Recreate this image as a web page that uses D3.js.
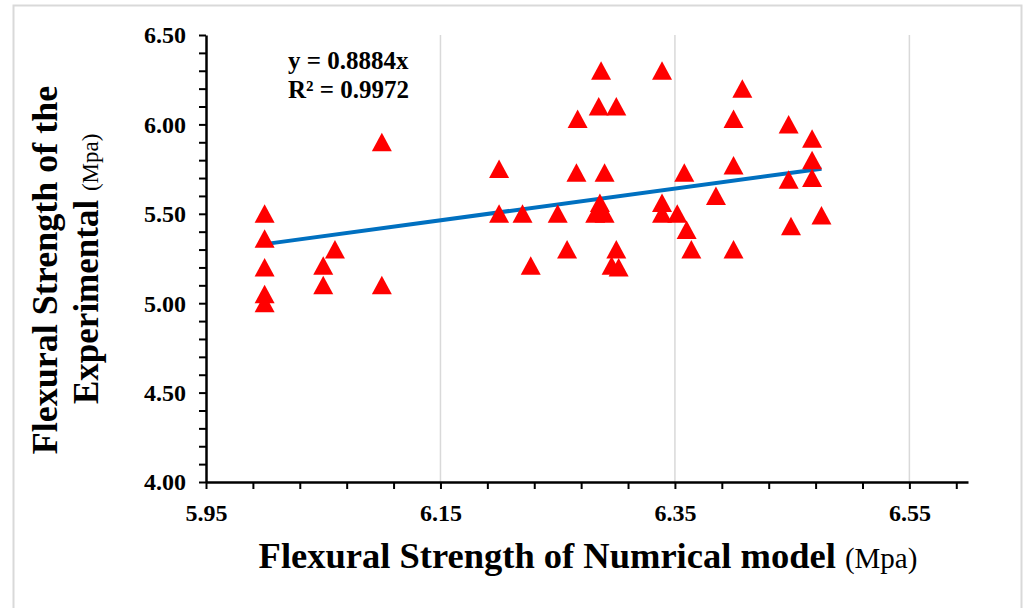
<!DOCTYPE html>
<html>
<head>
<meta charset="utf-8">
<script src="https://cdn.jsdelivr.net/npm/d3@7"></script>
<style>
  body { margin: 0; background: #fff; }
  text { font-family: "Times New Roman", "Liberation Serif", serif; fill: #000; }
</style>
</head>
<body>
<div id="chart"></div>
<script>
// flexural strength, numerical model (x) vs experimental (y), Mpa
var numerical = [6.00, 6.00, 6.00, 6.00, 6.00, 6.05, 6.05, 6.06, 6.10, 6.10,
  6.20, 6.20, 6.22, 6.227, 6.25, 6.258, 6.267, 6.266, 6.285, 6.287,
  6.29, 6.286, 6.286, 6.282, 6.290, 6.30, 6.30, 6.296, 6.302, 6.339,
  6.339, 6.339, 6.352, 6.358, 6.36, 6.364, 6.385, 6.40, 6.40, 6.40,
  6.4075, 6.447, 6.447, 6.449, 6.467, 6.467, 6.467, 6.475];
var experimental = [5.50, 5.36, 5.20, 5.05, 5.00, 5.21, 5.10, 5.30, 5.90, 5.10,
  5.75, 5.50, 5.50, 5.21, 5.50, 5.30, 6.03, 5.73, 6.10, 6.30,
  5.73, 5.56, 5.53, 5.50, 5.50, 6.10, 5.30, 5.21, 5.20, 6.30,
  5.56, 5.50, 5.50, 5.73, 5.41, 5.30, 5.60, 6.03, 5.77, 5.30,
  6.20, 6.00, 5.69, 5.43, 5.92, 5.80, 5.70, 5.49];

// trendline through origin
var slope = 0.8884;
var rSquared = 0.9972;

var xTickLabels = ["5.95", "6.15", "6.35", "6.55"];
var yTickLabels = ["4.00", "4.50", "5.00", "5.50", "6.00", "6.50"];

var data = numerical.map(function(d, i) { return {x: d, y: experimental[i]}; });

var margin = {top: 35, right: 56, bottom: 126, left: 206},
  width = 1024 - margin.left - margin.right,
  height = 608 - margin.top - margin.bottom;

var root = d3.select("#chart")
  .append("svg")
  .attr("width", 1024)
  .attr("height", 608);

// light frame around the chart area
root.append("rect")
  .attr("x", 13.5).attr("y", 5.5)
  .attr("width", 1008).attr("height", 610)
  .attr("fill", "none")
  .attr("stroke", "#d9d9d9")
  .attr("stroke-width", 2);

var svg = root.append("g")
  .attr("transform", "translate(" + margin.left + "," + margin.top + ")");

var x = d3.scaleLinear().domain([5.95, 6.60]).range([0, width]);
var y = d3.scaleLinear().domain([4.0, 6.5]).range([height, 0]);

// vertical gridlines at the major x ticks
svg.selectAll("line.grid")
  .data(xTickLabels.slice(1))
  .enter()
  .append("line")
    .attr("class", "grid")
    .attr("x1", function(d) { return x(+d); })
    .attr("x2", function(d) { return x(+d); })
    .attr("y1", 0)
    .attr("y2", height)
    .attr("stroke", "#d9d9d9")
    .attr("stroke-width", 1.5);

// minor ticks every 0.04 / 0.1, labels only on the majors
var xMinor = d3.range(0, 17).map(function(i) { return +(5.95 + i * 0.04).toFixed(2); });
var yMinor = d3.range(0, 26).map(function(i) { return +(4 + i * 0.1).toFixed(1); });

function isMajor(list, v) {
  return list.some(function(t) { return Math.abs(+t - v) < 1e-6; });
}

var xAxis = svg.append("g")
  .attr("transform", "translate(0," + height + ")")
  .call(d3.axisBottom(x).tickValues(xMinor).tickSize(7).tickSizeOuter(0)
    .tickFormat(function(d) { return isMajor(xTickLabels, d) ? d.toFixed(2) : ""; }));

var yAxis = svg.append("g")
  .call(d3.axisLeft(y).tickValues(yMinor).tickSize(7).tickSizeOuter(0)
    .tickFormat(function(d) { return isMajor(yTickLabels, d) ? d.toFixed(2) : ""; }));

[xAxis, yAxis].forEach(function(ax) {
  ax.select(".domain").attr("stroke", "#000").attr("stroke-width", 2.5);
  ax.selectAll(".tick line").attr("stroke", "#000").attr("stroke-width", 2);
  ax.selectAll("text")
    .attr("fill", "#000")
    .style("font-family", "'Times New Roman', 'Liberation Serif', serif")
    .style("font-size", "24px")
    .style("font-weight", "bold");
});
xAxis.selectAll("text").attr("y", 39).attr("dy", 0);
yAxis.selectAll("text").attr("x", -20).attr("dy", "0.33em");

// trendline over the x range of the data
var xr = d3.extent(numerical);
svg.append("line")
  .attr("x1", x(xr[0])).attr("y1", y(slope * xr[0]))
  .attr("x2", x(xr[1])).attr("y2", y(slope * xr[1]))
  .attr("stroke", "#0070c0")
  .attr("stroke-width", 4);

// triangle markers
svg.selectAll("path.pt")
  .data(data)
  .enter()
  .append("path")
    .attr("class", "pt")
    .attr("d", function(d) {
      var cx = x(d.x), cy = y(d.y);
      return "M" + cx + "," + (cy - 9.5) + "L" + (cx + 10) + "," + (cy + 9) + "L" + (cx - 10) + "," + (cy + 9) + "Z";
    })
    .attr("fill", "#ff0000");

// equation label
var eq = svg.append("text")
  .attr("x", 82)
  .attr("y", 34)
  .style("font-size", "25px")
  .style("font-weight", "bold");
eq.append("tspan").attr("x", 82).text("y = " + slope + "x");
eq.append("tspan").attr("x", 82).attr("dy", 29).text("R\u00b2 = " + rSquared);

// X axis label
var xl = svg.append("text")
  .attr("text-anchor", "middle")
  .attr("x", 382)
  .attr("y", height + 86);
xl.append("tspan").style("font-size", "36.5px").style("font-weight", "bold")
  .text("Flexural Strength of Numrical model ");
xl.append("tspan").style("font-size", "29px").text("(Mpa)");

// Y axis label, two lines
var yl = svg.append("text")
  .attr("text-anchor", "middle")
  .attr("transform", "rotate(-90)");
yl.append("tspan")
  .attr("x", -(270 - margin.top)).attr("y", -149)
  .style("font-size", "36px").style("font-weight", "bold")
  .text("Flexural Strength of the");
var yl2 = svg.append("text")
  .attr("text-anchor", "start")
  .attr("transform", "rotate(-90)")
  .attr("x", -(404 - margin.top)).attr("y", -108);
yl2.append("tspan").style("font-size", "35px").style("font-weight", "bold").text("Experimental ");
yl2.append("tspan").style("font-size", "23px").text(" (Mpa)");
</script>
</body>
</html>
